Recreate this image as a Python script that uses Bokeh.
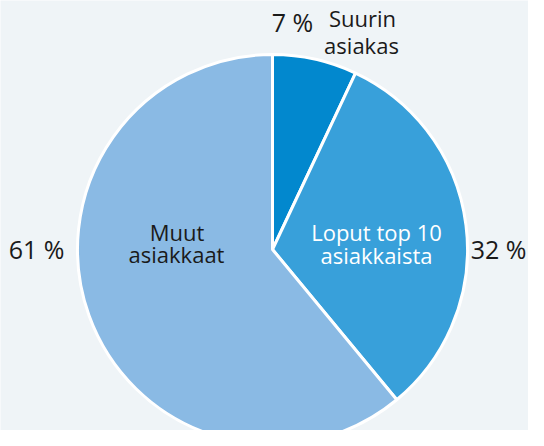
from math import pi
from bokeh.plotting import figure
from bokeh.models import Range1d, ColumnDataSource
from bokeh.core.properties import value
from bokeh.embed import file_html
from bokeh.resources import INLINE

# data
categories = ["Suurin asiakas", "Loput top 10 asiakkaista", "Muut asiakkaat"]
shares = [7, 32, 61]
colors = ["#0288CE", "#38A0DA", "#8ABAE4"]
inner_lines = [["Suurin", "asiakas"], ["Loput top 10", "asiakkaista"], ["Muut", "asiakkaat"]]
inner_colors = ["#1A1A1A", "#FFFFFF", "#1A1A1A"]

# layout (data coords = screen pixels, y flipped: y = 446 - screen_y)
W, H = 528, 430
CX, CY, R = 272, 197, 195
DY = 9  # baseline correction
pct_pos = [(292, 416 + DY, "center"), (526, 189 + DY, "right"), (36, 189 + DY, "center")]
inner_pos = [[(362, 419.5 + DY), (361, 393 + DY)], [(376, 205.5 + DY), (376, 183 + DY)],
             [(176.5, 206 + DY), (176, 184 + DY)]]

total = sum(shares)
starts, ends = [], []
cum = 0
for v in shares:
    starts.append(pi / 2 - 2 * pi * cum / total)
    cum += v
    ends.append(pi / 2 - 2 * pi * cum / total)

p = figure(width=W, height=H, output_backend="svg", toolbar_location=None,
           x_range=Range1d(0, W), y_range=Range1d(446 - H, 446), min_border=0)
p.axis.visible = False
p.grid.visible = False
p.outline_line_color = None
p.background_fill_color = "#EFF4F7"
p.border_fill_color = "#EFF4F7"

src = ColumnDataSource(dict(x=[CX] * 3, y=[CY] * 3, start=starts, end=ends, color=colors, cat=categories))
p.wedge(x="x", y="y", radius=R, start_angle="start", end_angle="end", direction="clock",
        fill_color="color", line_color="white", line_width=3, source=src)

font = value("Open Sans")
pct_src = ColumnDataSource(dict(x=[q[0] for q in pct_pos], y=[q[1] for q in pct_pos],
                                a=[q[2] for q in pct_pos], t=[f"{v} %" for v in shares]))
p.text(x="x", y="y", text="t", source=pct_src, text_font=font, text_font_size="25px",
       text_align="a", text_baseline="alphabetic", text_color="#1A1A1A")

xs, ys, ts, cs = [], [], [], []
for lines, poss, c in zip(inner_lines, inner_pos, inner_colors):
    for t, (x, y) in zip(lines, poss):
        xs.append(x); ys.append(y); ts.append(t); cs.append(c)
lab_src = ColumnDataSource(dict(x=xs, y=ys, t=ts, c=cs))
p.text(x="x", y="y", text="t", text_color="c", source=lab_src, text_font=font,
       text_font_size="22px", text_align="center", text_baseline="alphabetic")

open("out.html", "w").write(file_html(p, INLINE))
